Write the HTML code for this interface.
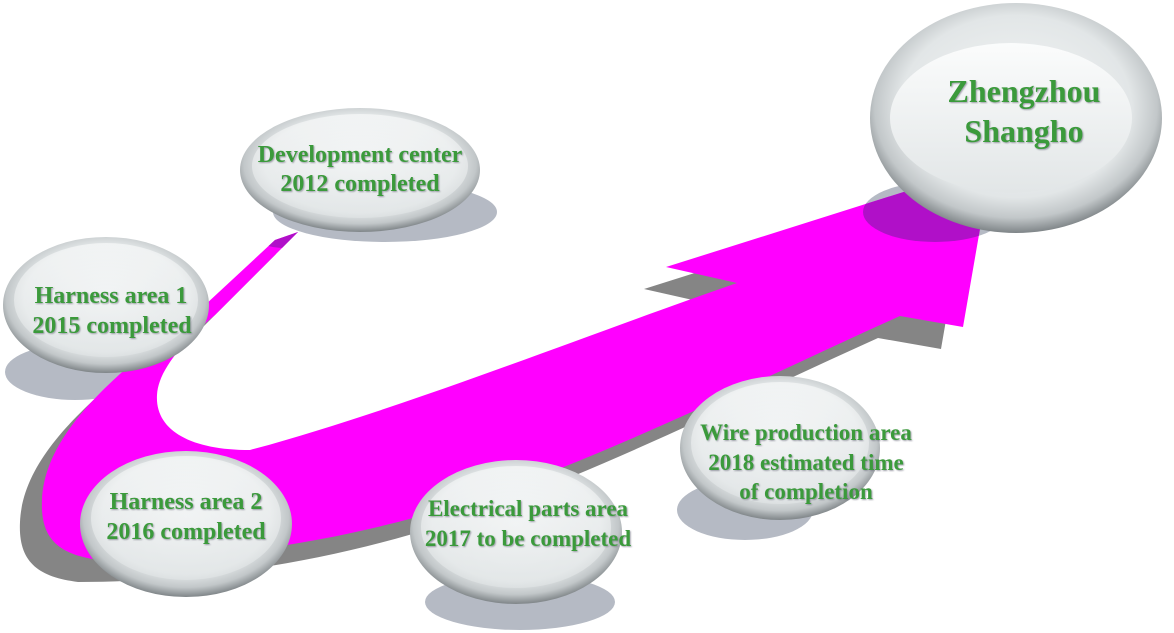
<!DOCTYPE html>
<html><head><meta charset="utf-8"><style>
html,body{margin:0;padding:0;background:#fff;width:1174px;height:633px;overflow:hidden}
text{font-family:"Liberation Serif",serif;font-weight:bold;fill:#3a9a3a;text-anchor:middle}
</style></head><body>
<svg width="1174" height="633" viewBox="0 0 1174 633" xmlns="http://www.w3.org/2000/svg">
<defs>
<radialGradient id="bub" cx="50%" cy="45%" r="55%">
<stop offset="0" stop-color="#f4f6f6"/><stop offset="0.72" stop-color="#e2e6e7"/><stop offset="0.88" stop-color="#c2c7c9"/><stop offset="1" stop-color="#7f8588"/>
</radialGradient>
<linearGradient id="inn" x1="0" y1="0" x2="0" y2="1">
<stop offset="0" stop-color="#fbfcfc"/><stop offset="1" stop-color="#e2e6e7"/>
</linearGradient>
<filter id="ts"><feDropShadow dx="1" dy="1" stdDeviation="0.8" flood-color="#667" flood-opacity="0.6"/></filter>
<path id="arr" d="M298,232 L275,240 L205,305 C120,370 45,430 42,500 C40,540 60,555 100,560 C250,560 400,530 530,480 C650,435 780,370 900,316 L963,327 L985,200 L910,190 L666,267 L737,283 C600,330 400,410 250,450 C190,450 155,430 157,395 C158,370 185,340 215,315 Z"/>
<clipPath id="c1"><use href="#arr"/></clipPath>
</defs>
<ellipse cx="385" cy="212" rx="112" ry="30" fill="#b5bac4"/>
<ellipse cx="75" cy="372" rx="70" ry="28" fill="#b5bac4"/>
<ellipse cx="520" cy="602" rx="95" ry="28" fill="#b5bac4"/>
<ellipse cx="745" cy="510" rx="68" ry="30" fill="#b5bac4"/>
<ellipse cx="935" cy="212" rx="72" ry="30" fill="#b5bac4"/>
<use href="#arr" transform="translate(-22,22)" fill="#858585"/>
<use href="#arr" fill="#ff00ff"/>
<ellipse cx="935" cy="212" rx="72" ry="30" fill="#b010c8" clip-path="url(#c1)"/>
<ellipse cx="285" cy="236" rx="30" ry="12" fill="#b010c8" clip-path="url(#c1)"/>
<g>
<ellipse cx="360" cy="170" rx="120" ry="62" fill="url(#bub)"/>
<ellipse cx="360" cy="166" rx="108" ry="52" fill="url(#inn)" opacity="0.6"/>
<text x="360" y="162" font-size="24" filter="url(#ts)">Development center</text>
<text x="360" y="191" font-size="24" filter="url(#ts)">2012 completed</text>
</g>
<g>
<ellipse cx="106" cy="305" rx="103" ry="68" fill="url(#bub)"/>
<ellipse cx="106" cy="300" rx="92" ry="57" fill="url(#inn)" opacity="0.6"/>
<text x="111" y="303" font-size="24" filter="url(#ts)">Harness area 1</text>
<text x="112" y="333" font-size="24" filter="url(#ts)">2015 completed</text>
</g>
<g>
<ellipse cx="186" cy="524" rx="106" ry="73" fill="url(#bub)"/>
<ellipse cx="186" cy="518" rx="95" ry="62" fill="url(#inn)" opacity="0.6"/>
<text x="186" y="509" font-size="24" filter="url(#ts)">Harness area 2</text>
<text x="186" y="539" font-size="24" filter="url(#ts)">2016  completed</text>
</g>
<g>
<ellipse cx="516" cy="532" rx="106" ry="72" fill="url(#bub)"/>
<ellipse cx="516" cy="527" rx="95" ry="61" fill="url(#inn)" opacity="0.6"/>
<text x="528" y="516" font-size="23" filter="url(#ts)">Electrical parts area</text>
<text x="528" y="546" font-size="23" filter="url(#ts)">2017 to be completed</text>
</g>
<g>
<ellipse cx="780" cy="448" rx="100" ry="72" fill="url(#bub)"/>
<ellipse cx="780" cy="443" rx="89" ry="61" fill="url(#inn)" opacity="0.6"/>
<text x="806" y="440" font-size="23" filter="url(#ts)">Wire production area</text>
<text x="806" y="470" font-size="23" filter="url(#ts)">2018 estimated time</text>
<text x="806" y="499" font-size="23" filter="url(#ts)">of completion</text>
</g>
<g>
<ellipse cx="1016" cy="118" rx="146" ry="115" fill="url(#bub)"/>
<ellipse cx="1011" cy="118" rx="121" ry="75" fill="url(#inn)"/>
<text x="1024" y="102" font-size="32" filter="url(#ts)">Zhengzhou</text>
<text x="1024" y="142" font-size="32" filter="url(#ts)">Shangho</text>
</g>
</svg>
</body></html>
